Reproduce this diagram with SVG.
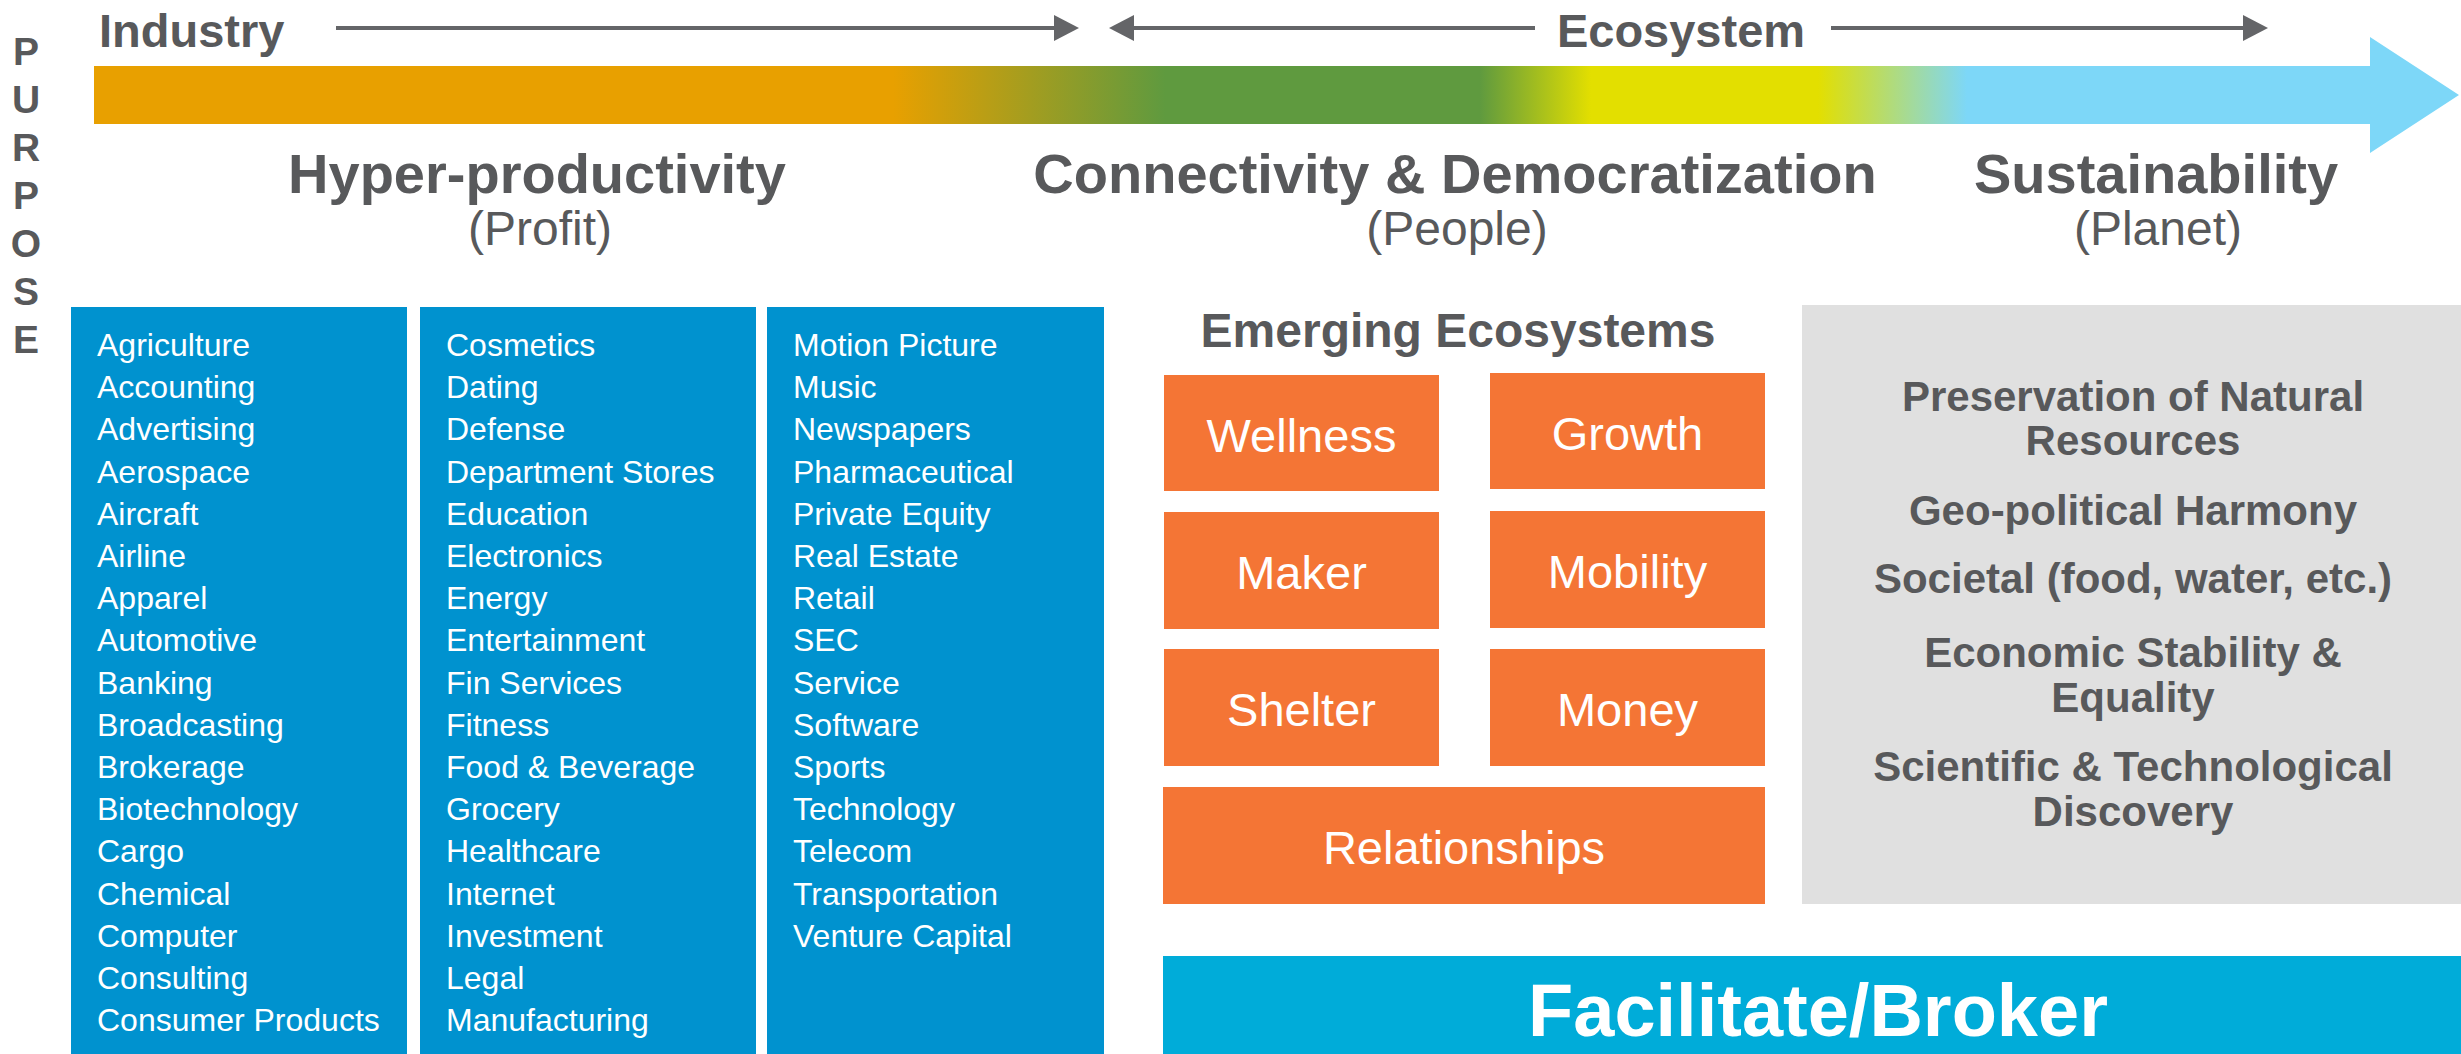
<svg xmlns="http://www.w3.org/2000/svg" width="2461" height="1054" viewBox="0 0 2461 1054">
  <style>
    text { font-family: "Liberation Sans", Arial, sans-serif; }
    .top { font-weight: bold; font-size: 47px; fill: #58595B; }
    .purpose { font-weight: bold; font-size: 39px; fill: #58595B; text-anchor: middle; }
    .head { font-weight: bold; font-size: 56px; fill: #58595B; text-anchor: middle; }
    .sub { font-size: 48px; fill: #58595B; text-anchor: middle; }
    .list { font-size: 32px; fill: #FFFFFF; }
    .blue { fill: #0092CF; }
    .orange { fill: #F47535; }
    .otext { font-size: 47px; fill: #FFFFFF; text-anchor: middle; }
    .eco { font-weight: bold; font-size: 48px; fill: #58595B; text-anchor: middle; }
    .gray { fill: #E0E0E0; }
    .gtext { font-weight: bold; font-size: 42px; fill: #58595B; text-anchor: middle; }
    .conn { stroke: #646568; stroke-width: 4; fill: none; }
  </style>
  <defs>
    <marker id="ah" markerUnits="userSpaceOnUse" markerWidth="25" markerHeight="26" viewBox="0 0 25 26" refX="0" refY="13" orient="auto">
      <path d="M0,0 L25,13 L0,26 Z" fill="#646568"/>
    </marker>
    <linearGradient id="grad" gradientUnits="userSpaceOnUse" x1="94" y1="0" x2="2459" y2="0">
      <stop offset="0" stop-color="#E8A000"/>
      <stop offset="0.338" stop-color="#E8A000"/>
      <stop offset="0.453" stop-color="#5F9A3F"/>
      <stop offset="0.586" stop-color="#5F9A3F"/>
      <stop offset="0.633" stop-color="#E3DF00"/>
      <stop offset="0.729" stop-color="#E3DF00"/>
      <stop offset="0.792" stop-color="#7DD7F8"/>
      <stop offset="1" stop-color="#7DD7F8"/>
    </linearGradient>
  </defs>
  <rect width="2461" height="1054" fill="#FFFFFF"/>

  <g id="purpose">
    <text class="purpose" x="26" y="65">P</text>
    <text class="purpose" x="26" y="113">U</text>
    <text class="purpose" x="26" y="161">R</text>
    <text class="purpose" x="26" y="209">P</text>
    <text class="purpose" x="26" y="257">O</text>
    <text class="purpose" x="26" y="305">S</text>
    <text class="purpose" x="26" y="353">E</text>
  </g>

  <g id="industry-label"><text class="top" x="99" y="47">Industry</text></g>
  <g id="ecosystem-label"><text class="top" x="1681" y="47" text-anchor="middle">Ecosystem</text></g>

  <g id="connectors">
    <line class="conn" x1="336" y1="28" x2="1054" y2="28" marker-end="url(#ah)"/>
    <line class="conn" x1="1535" y1="28" x2="1134" y2="28" marker-end="url(#ah)"/>
    <line class="conn" x1="1831" y1="28" x2="2243" y2="28" marker-end="url(#ah)"/>
  </g>

  <g id="purpose-arrow">
    <path d="M94,66 H2370 V37 L2459,95 L2370,153 V124 H94 Z" fill="url(#grad)"/>
  </g>

  <g id="hyper-productivity">
    <text class="head" x="537" y="193">Hyper-productivity</text>
    <text class="sub" x="540" y="245">(Profit)</text>
  </g>
  <g id="connectivity">
    <text class="head" x="1455" y="193">Connectivity &amp; Democratization</text>
    <text class="sub" x="1457" y="245">(People)</text>
  </g>
  <g id="sustainability">
    <text class="head" x="2156" y="193">Sustainability</text>
    <text class="sub" x="2158" y="245">(Planet)</text>
  </g>

  <g id="industries-1">
    <rect class="blue" x="71" y="307" width="336" height="747"/>
    <text class="list" y="356">
      <tspan x="97">Agriculture</tspan>
      <tspan x="97" dy="42.2">Accounting</tspan>
      <tspan x="97" dy="42.2">Advertising</tspan>
      <tspan x="97" dy="42.2">Aerospace</tspan>
      <tspan x="97" dy="42.2">Aircraft</tspan>
      <tspan x="97" dy="42.2">Airline</tspan>
      <tspan x="97" dy="42.2">Apparel</tspan>
      <tspan x="97" dy="42.2">Automotive</tspan>
      <tspan x="97" dy="42.2">Banking</tspan>
      <tspan x="97" dy="42.2">Broadcasting</tspan>
      <tspan x="97" dy="42.2">Brokerage</tspan>
      <tspan x="97" dy="42.2">Biotechnology</tspan>
      <tspan x="97" dy="42.2">Cargo</tspan>
      <tspan x="97" dy="42.2">Chemical</tspan>
      <tspan x="97" dy="42.2">Computer</tspan>
      <tspan x="97" dy="42.2">Consulting</tspan>
      <tspan x="97" dy="42.2">Consumer Products</tspan>
    </text>
  </g>
  <g id="industries-2">
    <rect class="blue" x="420" y="307" width="336" height="747"/>
    <text class="list" y="356">
      <tspan x="446">Cosmetics</tspan>
      <tspan x="446" dy="42.2">Dating</tspan>
      <tspan x="446" dy="42.2">Defense</tspan>
      <tspan x="446" dy="42.2">Department Stores</tspan>
      <tspan x="446" dy="42.2">Education</tspan>
      <tspan x="446" dy="42.2">Electronics</tspan>
      <tspan x="446" dy="42.2">Energy</tspan>
      <tspan x="446" dy="42.2">Entertainment</tspan>
      <tspan x="446" dy="42.2">Fin Services</tspan>
      <tspan x="446" dy="42.2">Fitness</tspan>
      <tspan x="446" dy="42.2">Food &amp; Beverage</tspan>
      <tspan x="446" dy="42.2">Grocery</tspan>
      <tspan x="446" dy="42.2">Healthcare</tspan>
      <tspan x="446" dy="42.2">Internet</tspan>
      <tspan x="446" dy="42.2">Investment</tspan>
      <tspan x="446" dy="42.2">Legal</tspan>
      <tspan x="446" dy="42.2">Manufacturing</tspan>
    </text>
  </g>
  <g id="industries-3">
    <rect class="blue" x="767" y="307" width="337" height="747"/>
    <text class="list" y="356">
      <tspan x="793">Motion Picture</tspan>
      <tspan x="793" dy="42.2">Music</tspan>
      <tspan x="793" dy="42.2">Newspapers</tspan>
      <tspan x="793" dy="42.2">Pharmaceutical</tspan>
      <tspan x="793" dy="42.2">Private Equity</tspan>
      <tspan x="793" dy="42.2">Real Estate</tspan>
      <tspan x="793" dy="42.2">Retail</tspan>
      <tspan x="793" dy="42.2">SEC</tspan>
      <tspan x="793" dy="42.2">Service</tspan>
      <tspan x="793" dy="42.2">Software</tspan>
      <tspan x="793" dy="42.2">Sports</tspan>
      <tspan x="793" dy="42.2">Technology</tspan>
      <tspan x="793" dy="42.2">Telecom</tspan>
      <tspan x="793" dy="42.2">Transportation</tspan>
      <tspan x="793" dy="42.2">Venture Capital</tspan>
    </text>
  </g>

  <g id="emerging-ecosystems-title"><text class="eco" x="1458" y="347">Emerging Ecosystems</text></g>
  <g id="wellness"><rect class="orange" x="1164" y="375" width="275" height="116"/><text class="otext" x="1301.5" y="452">Wellness</text></g>
  <g id="growth"><rect class="orange" x="1490" y="373" width="275" height="116"/><text class="otext" x="1627.5" y="450">Growth</text></g>
  <g id="maker"><rect class="orange" x="1164" y="512" width="275" height="117"/><text class="otext" x="1301.5" y="589">Maker</text></g>
  <g id="mobility"><rect class="orange" x="1490" y="511" width="275" height="117"/><text class="otext" x="1627.5" y="588">Mobility</text></g>
  <g id="shelter"><rect class="orange" x="1164" y="649" width="275" height="117"/><text class="otext" x="1301.5" y="726">Shelter</text></g>
  <g id="money"><rect class="orange" x="1490" y="649" width="275" height="117"/><text class="otext" x="1627.5" y="726">Money</text></g>
  <g id="relationships"><rect class="orange" x="1163" y="787" width="602" height="117"/><text class="otext" x="1464" y="864">Relationships</text></g>

  <g id="sustainability-goals">
    <rect class="gray" x="1802" y="305" width="659" height="599"/>
    <text class="gtext" x="2133" y="411">Preservation of Natural</text>
    <text class="gtext" x="2133" y="455">Resources</text>
    <text class="gtext" x="2133" y="525">Geo-political Harmony</text>
    <text class="gtext" x="2133" y="593">Societal (food, water, etc.)</text>
    <text class="gtext" x="2133" y="667">Economic Stability &amp;</text>
    <text class="gtext" x="2133" y="712">Equality</text>
    <text class="gtext" x="2133" y="781">Scientific &amp; Technological</text>
    <text class="gtext" x="2133" y="826">Discovery</text>
  </g>

  <g id="facilitate-broker">
    <rect x="1163" y="956" width="1298" height="98" fill="#00ACD9"/>
    <text x="1818" y="1036" text-anchor="middle" font-weight="bold" font-size="74" fill="#FFFFFF">Facilitate/Broker</text>
  </g>
</svg>
